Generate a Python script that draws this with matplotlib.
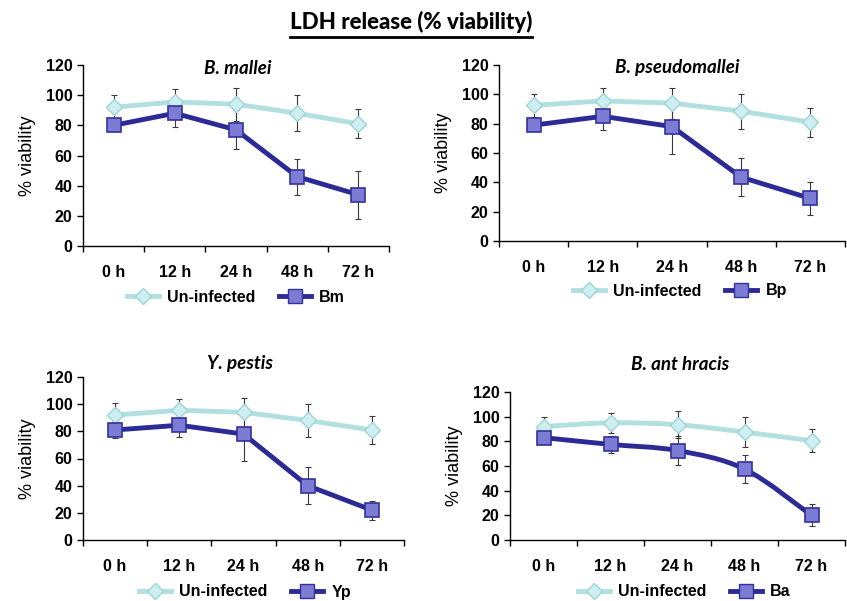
import numpy as np
import matplotlib; matplotlib.use("Agg")
import matplotlib.pyplot as plt
from matplotlib.path import Path
from matplotlib.patches import PathPatch
from matplotlib.lines import Line2D

# Daten
zeiten = ["0 h", "12 h", "24 h", "48 h", "72 h"]
titel = ["B. mallei", "B. pseudomallei", "Y. pestis", "B. ant hracis"]
erreger = ["Bm", "Bp", "Yp", "Ba"]

uninf_bm = [92, 95.5, 94, 88, 81]
uninf_bm_err = [8, 8.5, 11, 12, 9.5]
bm = [80, 88, 77, 46, 34]
bm_err = [4, 9, 13, 12, 16]

uninf_bp = [92.5, 95.5, 94, 88.5, 81]
uninf_bp_err = [8, 8.5, 10.5, 12, 10]
bp = [79, 85, 78, 43.5, 29]
bp_err = [4, 9, 19, 13, 11]

uninf_yp = [92, 95.5, 94, 88, 81]
uninf_yp_err = [8.5, 8.5, 10.5, 12, 10]
yp = [81, 84.5, 78, 40, 22]
yp_err = [6, 9, 19.5, 13.5, 7]

uninf_ba = [92, 95, 93.5, 87.5, 80.5]
uninf_ba_err = [8, 8, 11, 12, 9.5]
ba = [83, 77.5, 72.5, 57.5, 20]
ba_err = [4, 7, 12, 11.5, 9]

HELL = "#B2E0E0"; HELL_FILL = "#CDEFF1"; HELL_EDGE = "#9ED3D5"
DUNKEL = "#2C2B95"; DUNKEL_FILL = "#7C7CD4"; DUNKEL_EDGE = "#33329C"
FEHLER = "#3A3A3A"

plt.rcParams["font.family"] = ["Liberation Sans", "DejaVu Sans"]

fig = plt.figure(figsize=(8.47, 6.01), dpi=100)
W, H = 847, 601

def px_ax(l, t, r, b):
    return [l / W, 1 - b / H, (r - l) / W, (b - t) / H]

def glatt(ax, x, y, color, lw, z):
    # Excel-artige Glaettung (Catmull-Rom -> Bezier)
    pts = np.column_stack([x, y]).astype(float)
    verts = [pts[0]]; codes = [Path.MOVETO]
    n = len(pts)
    for i in range(n - 1):
        p0 = pts[max(i - 1, 0)]; p1 = pts[i]; p2 = pts[i + 1]; p3 = pts[min(i + 2, n - 1)]
        c1 = p1 + (p2 - p0) / 6.0
        c2 = p2 - (p3 - p1) / 6.0
        verts += [c1, c2, p2]; codes += [Path.CURVE4] * 3
    ax.add_patch(PathPatch(Path(verts, codes), facecolor="none", edgecolor=color,
                           lw=lw, zorder=z, capstyle="round", joinstyle="round"))

panels = [
    (px_ax(83, 65, 389, 246), uninf_bm, uninf_bm_err, bm, bm_err, (238, 68), (236, 297), False),
    (px_ax(499, 65, 845, 241), uninf_bp, uninf_bp_err, bp, bp_err, (677, 68), (680, 291), False),
    (px_ax(83, 377, 404, 540), uninf_yp, uninf_yp_err, yp, yp_err, (240, 364), (245, 592), False),
    (px_ax(510, 392, 845, 540), uninf_ba, uninf_ba_err, ba, ba_err, (680, 364), (684, 592), True),
]

x = np.arange(len(zeiten))
for i, (rect, u, ue, d, de, tpos, lpos, smooth) in enumerate(panels):
    ax = fig.add_axes(rect)
    ax.errorbar(x, u, yerr=ue, fmt="none", ecolor=FEHLER, elinewidth=0.8, capsize=2.5, capthick=0.8, zorder=2)
    ax.errorbar(x, d, yerr=de, fmt="none", ecolor=FEHLER, elinewidth=0.8, capsize=2.5, capthick=0.8, zorder=2)
    if smooth:
        glatt(ax, x, u, HELL, 3.5, 3)
        glatt(ax, x, d, DUNKEL, 3.5, 4)
        ax.plot(x, u, ls="none", marker="D", ms=8.5, mfc=HELL_FILL, mec=HELL_EDGE, mew=1, zorder=5)
        ax.plot(x, d, ls="none", marker="s", ms=10.5, mfc=DUNKEL_FILL, mec=DUNKEL_EDGE, mew=1.2, zorder=6)
    else:
        ax.plot(x, u, color=HELL, lw=3.5, marker="D", ms=8.5, mfc=HELL_FILL, mec=HELL_EDGE, mew=1, zorder=3)
        ax.plot(x, d, color=DUNKEL, lw=3.5, marker="s", ms=10.5, mfc=DUNKEL_FILL, mec=DUNKEL_EDGE, mew=1.2, zorder=4)
    ax.set_xlim(-0.5, len(zeiten) - 0.5)
    ax.set_ylim(0, 120)
    ax.set_yticks(range(0, 121, 20))
    ax.set_xticks(x)
    ax.set_xticklabels(zeiten, fontsize=11.5, fontweight="bold")
    ax.set_xticks(np.arange(-0.5, len(zeiten)), minor=True)
    ax.tick_params(axis="x", which="major", length=0, pad=14)
    ax.tick_params(axis="x", which="minor", length=4, width=1)
    ax.tick_params(axis="y", length=4, width=1, labelsize=11.5)
    for t in ax.get_yticklabels():
        t.set_fontweight("bold")
    for s in ["top", "right"]:
        ax.spines[s].set_visible(False)
    ax.spines["left"].set_linewidth(1)
    ax.spines["bottom"].set_linewidth(1)
    ax.set_ylabel("% viability", fontsize=13, labelpad=7)
    ax.patch.set_alpha(0)
    fig.text(tpos[0] / W, 1 - tpos[1] / H, titel[i], ha="center", va="center",
             fontsize=13.5, fontweight="bold", fontstyle="italic", family=["Lato", "DejaVu Sans"])
    handles = [Line2D([], [], color=HELL, lw=3.5, marker="D", ms=8.5, mfc=HELL_FILL, mec=HELL_EDGE),
               Line2D([], [], color=DUNKEL, lw=3.5, marker="s", ms=10.5, mfc=DUNKEL_FILL, mec=DUNKEL_EDGE)]
    fig.legend(handles, ["Un-infected", erreger[i]], loc="center", ncol=2, frameon=False,
               bbox_to_anchor=(lpos[0] / W, 1 - lpos[1] / H), handlelength=2.0, columnspacing=1.5,
               handletextpad=0.5, prop={"weight": "bold", "size": 11.5})

fig.text(411 / W, 1 - 22 / H, "LDH release (% viability)", ha="center", va="center",
         fontsize=16, fontweight="black", family=["Lato", "DejaVu Sans"])
fig.add_artist(Line2D([290 / W, 532 / W], [1 - 37 / H, 1 - 37 / H], color="black", lw=2))

fig.savefig("out.png", dpi=100)
